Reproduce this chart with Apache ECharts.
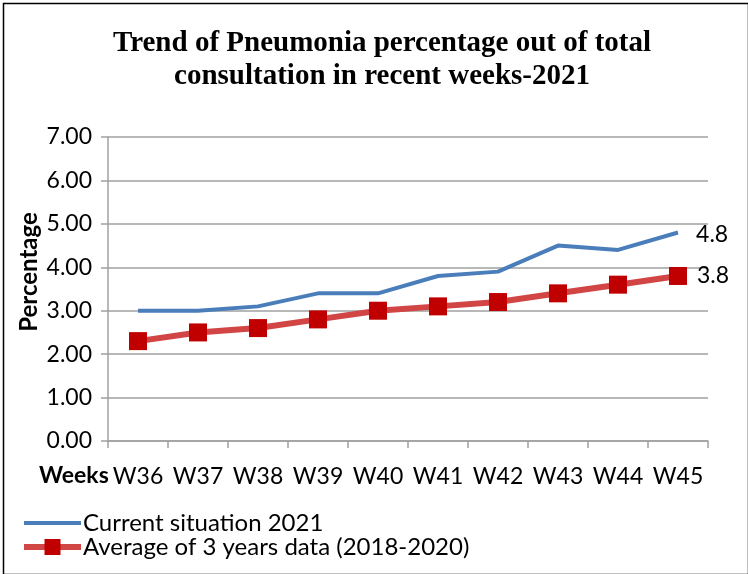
<!DOCTYPE html>
<html>
<head>
<meta charset="utf-8">
<script src="https://cdn.jsdelivr.net/npm/echarts@6/dist/echarts.min.js"></script>
<style>
  html, body { margin: 0; padding: 0; background: #fff; }
  #main { width: 748px; height: 574px; }
</style>
</head>
<body>
<div id="main"></div>
<script>
// 数据
const weeks = ['W36', 'W37', 'W38', 'W39', 'W40', 'W41', 'W42', 'W43', 'W44', 'W45'];
const current2021 = [3.0, 3.0, 3.1, 3.4, 3.4, 3.8, 3.9, 4.5, 4.4, 4.8];
const average3y = [2.3, 2.5, 2.6, 2.8, 3.0, 3.1, 3.2, 3.4, 3.6, 3.8];
const yTicks = [0, 1, 2, 3, 4, 5, 6, 7];

const labelFont = 'Lato, "Open Sans", sans-serif';
const gridColor = '#a0a0a0';
const blue = '#4a7ebb';
const red = '#d24545';

const chart = echarts.init(document.getElementById('main'));

// 只在最后一个点显示数值
const lastLabel = (params) =>
  params.dataIndex === weeks.length - 1 ? params.value.toFixed(1) : '';

const option = {
  backgroundColor: '#fff',
  animation: false,
  title: {
    text: 'Trend of Pneumonia percentage out of total\nconsultation in recent weeks-2021',
    left: 377,
    top: 22,
    textAlign: 'center',
    textStyle: {
      fontFamily: '"Liberation Serif", "Times New Roman", serif',
      fontWeight: 'bold',
      fontSize: 29,
      lineHeight: 33,
      color: '#000',
    },
  },
  grid: {
    left: 108,
    right: 40,
    top: 137,
    bottom: 133,
    containLabel: false,
  },
  legend: {
    orient: 'vertical',
    left: 21,
    top: 511,
    padding: 0,
    itemWidth: 57,
    itemHeight: 20,
    itemGap: 0,
    textStyle: { fontFamily: labelFont, fontSize: 24, color: '#000', padding: [0, 0, 0, -3] },
    data: [
      {
        name: 'Current situation 2021',
        icon: 'path://M0,0 H58 V4 H0 Z',
        itemStyle: { color: blue },
      },
      {
        name: 'Average of 3 years data (2018-2020)',
        lineStyle: { width: 6, color: red },
      },
    ],
  },
  xAxis: {
    type: 'category',
    data: weeks,
    boundaryGap: true,
    axisLine: { lineStyle: { color: gridColor, width: 1.5 } },
    axisTick: { show: true, length: 7, interval: 0, lineStyle: { color: gridColor, width: 1.5 } },
    axisLabel: { fontFamily: labelFont, fontSize: 23, color: '#000', margin: 24, interval: 0 },
  },
  yAxis: {
    type: 'value',
    min: yTicks[0],
    max: yTicks[yTicks.length - 1],
    interval: 1,
    axisLine: { show: true, lineStyle: { color: gridColor, width: 1.5 } },
    axisTick: { show: true, length: 7, lineStyle: { color: gridColor, width: 1.5 } },
    splitLine: { lineStyle: { color: gridColor, width: 1.5 } },
    axisLabel: {
      fontFamily: labelFont,
      fontSize: 23,
      color: '#000',
      margin: 16,
      formatter: (v) => v.toFixed(2),
    },
  },
  series: [
    {
      name: 'Current situation 2021',
      type: 'line',
      data: current2021,
      showSymbol: true,
      symbol: 'circle',
      symbolSize: 0.1,
      lineStyle: { color: blue, width: 4 },
      itemStyle: { color: blue },
      label: {
        show: true,
        position: 'right',
        distance: 18,
        fontFamily: labelFont,
        fontSize: 23,
        color: '#000',
        offset: [0, 2],
        formatter: lastLabel,
      },
      z: 2,
    },
    {
      name: 'Average of 3 years data (2018-2020)',
      type: 'line',
      data: average3y,
      symbol: 'rect',
      symbolSize: 18,
      lineStyle: { color: red, width: 6 },
      itemStyle: { color: '#c00000' },
      label: {
        show: true,
        position: 'right',
        distance: 10,
        fontFamily: labelFont,
        fontSize: 23,
        color: '#000',
        formatter: lastLabel,
      },
      z: 3,
    },
  ],
  graphic: [
    {
      type: 'rect',
      left: 1,
      top: 1,
      shape: { width: 745, height: 571 },
      style: { fill: 'none', stroke: '#000', lineWidth: 1.5 },
      silent: true,
    },
    {
      type: 'text',
      left: 39,
      top: 464,
      style: { text: 'Weeks', font: 'bold 23px ' + labelFont, fill: '#000' },
    },
    {
      type: 'text',
      x: 29,
      y: 272,
      rotation: Math.PI / 2,
      style: {
        text: 'Percentage',
        font: 'bold 24px ' + labelFont,
        fill: '#000',
        textAlign: 'center',
        textVerticalAlign: 'middle',
      },
    },
  ],
};

chart.setOption(option);
</script>
</body>
</html>
